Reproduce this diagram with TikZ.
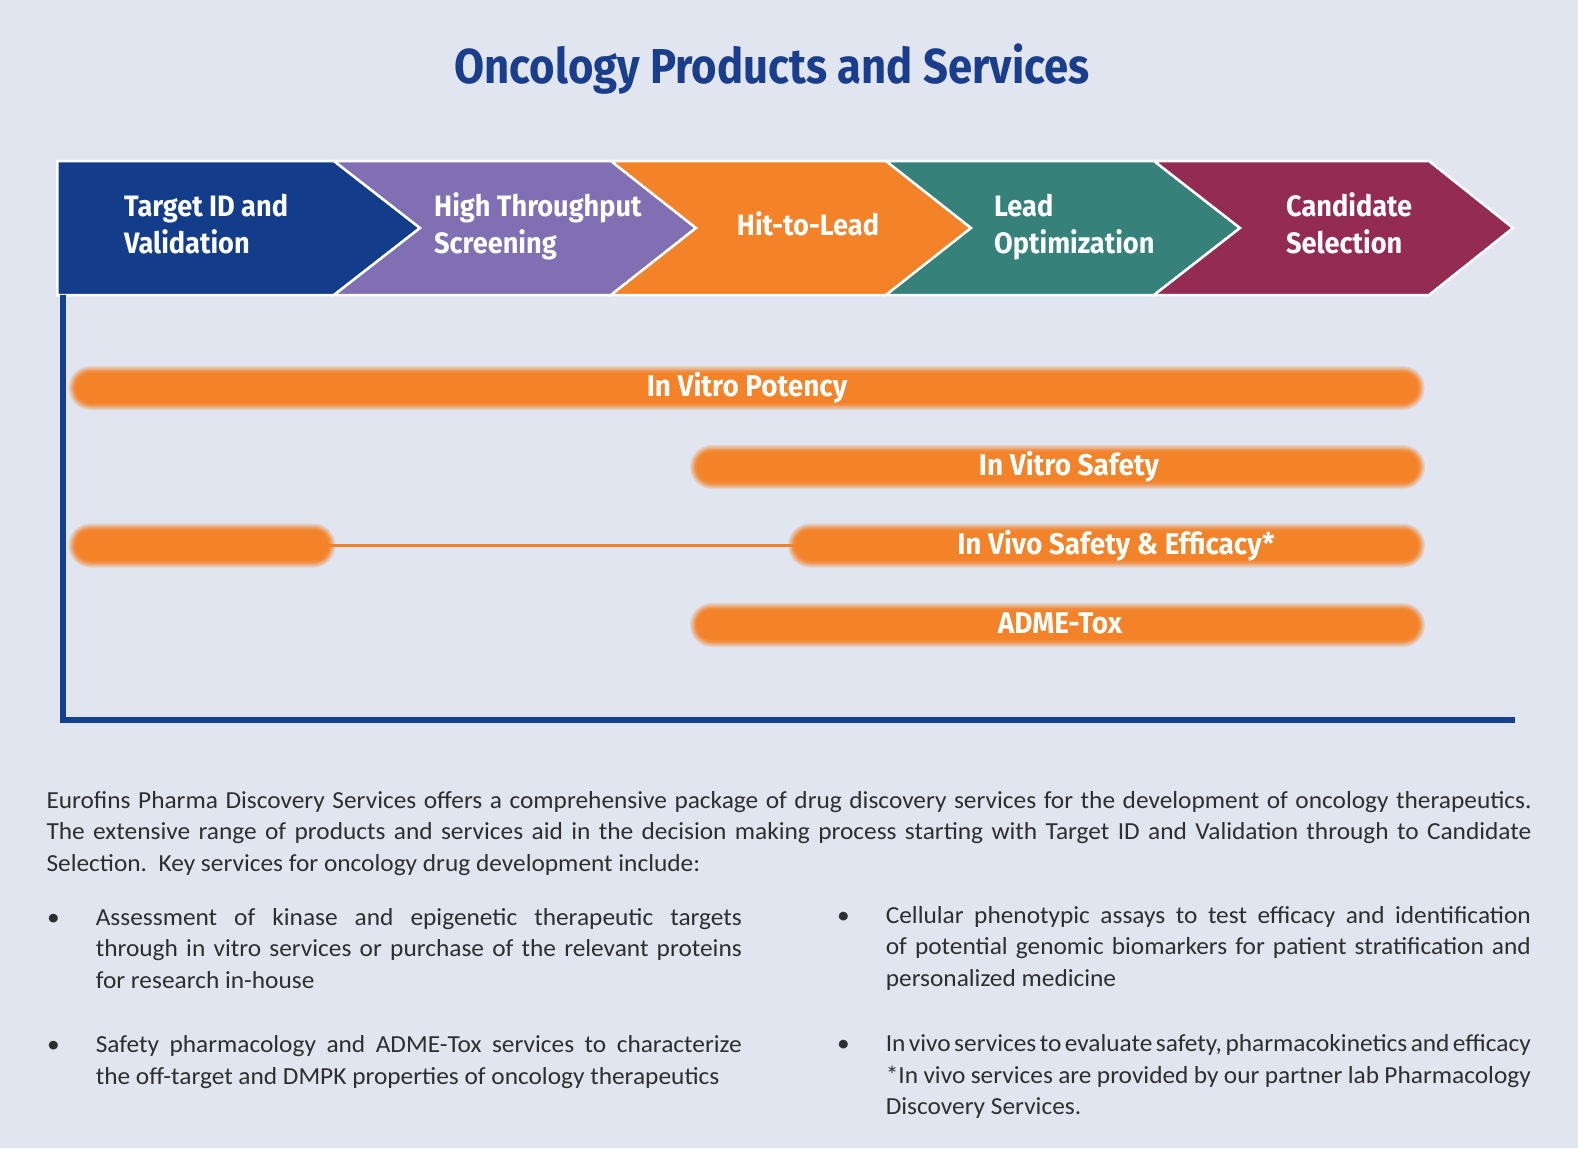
\documentclass[tikz,border=0pt]{standalone}
\usepackage{fontspec}
\setmainfont[FakeStretch=1.035]{Carlito}
\newfontfamily\headfont[FakeStretch=0.92]{Fira Sans}
\newfontfamily\pillfont[FakeStretch=0.93]{Fira Sans}
\newfontfamily\titlefont[FakeStretch=0.89]{Fira Sans}
\definecolor{bg}{HTML}{E0E5F0}
\definecolor{titleblue}{HTML}{1A3E8C}
\definecolor{cblue}{HTML}{133D8A}
\definecolor{cpurple}{HTML}{8070B3}
\definecolor{corange}{HTML}{F38228}
\definecolor{cteal}{HTML}{36827B}
\definecolor{cmaroon}{HTML}{932B52}
\definecolor{axisblue}{HTML}{15408E}
\definecolor{bodytext}{HTML}{2E2E2E}
\tikzset{
  chev/.style={draw=white, line width=2.5pt, line join=miter},
  chevtext/.style={font=\headfont\bfseries\fontsize{29.5}{36}\selectfont, text=white, inner sep=0},
  pill/.style={minimum height=30pt, rounded corners=15pt, inner sep=0, fill=corange,
    preaction={draw=corange!20!bg, line width=14pt},
    preaction={draw=corange!38!bg, line width=11.5pt},
    preaction={draw=corange!56!bg, line width=9pt},
    preaction={draw=corange!74!bg, line width=6.5pt},
    preaction={draw=corange!90!bg, line width=4pt}},
  pilltext/.style={font=\pillfont\bfseries\fontsize{30}{36}\selectfont, text=white, inner sep=0, anchor=base},
  body/.style={font=\fontsize{24.5}{31.7}\selectfont, text=bodytext, inner sep=0, anchor=base west},
}
\begin{document}
\begin{tikzpicture}[x=1pt,y=-1pt]
\fill[bg] (0,0) rectangle (1578,1148);
\useasboundingbox (0,0) rectangle (1578,1148);
% title
\node[font=\titlefont\bfseries\fontsize{49}{56}\selectfont, text=titleblue, anchor=base, inner sep=0] (title) at (772,83.5) {Oncology Products and Services};
% chevrons
\filldraw[fill=cblue, chev] (57.4,161) -- (334,161) -- (420,228) -- (334,295) -- (57.4,295) -- cycle;
\filldraw[fill=cpurple, chev] (334,161) -- (611,161) -- (696,228) -- (611,295) -- (334,295) -- (420,228) -- cycle;
\filldraw[fill=corange, chev] (611,161) -- (886,161) -- (971,228) -- (886,295) -- (611,295) -- (696,228) -- cycle;
\filldraw[fill=cteal, chev] (886,161) -- (1154,161) -- (1240,228) -- (1154,295) -- (886,295) -- (971,228) -- cycle;
\filldraw[fill=cmaroon, chev] (1154,161) -- (1429,161) -- (1513,228) -- (1429,295) -- (1154,295) -- (1240,228) -- cycle;
\node[chevtext, anchor=base west] (t1a) at (124,216.5) {Target ID and};
\node[chevtext, anchor=base west] (t1b) at (124,253) {Validation};
\node[chevtext, anchor=base west] (t2a) at (434,216.5) {High Throughput};
\node[chevtext, anchor=base west] (t2b) at (434,253) {Screening};
\node[chevtext, anchor=base] (t3) at (808,235) {Hit-to-Lead};
\node[chevtext, anchor=base west] (t4a) at (994,216.5) {Lead};
\node[chevtext, anchor=base west] (t4b) at (994,253) {Optimization};
\node[chevtext, anchor=base west] (t5a) at (1286,216.5) {Candidate};
\node[chevtext, anchor=base west] (t5b) at (1286,253) {Selection};
% axis
\draw[axisblue, line width=6pt, line join=miter] (62.5,295) -- (62.5,720) -- (1514.5,720);
% bars
\node[pill, minimum width=1342pt] (b1) at (746.7,388) {};
\node[pill, minimum width=721pt] (b2) at (1057.5,467) {};
\node[pill, minimum width=253pt] (b3) at (202,545.5) {};
\node[pill, minimum width=623pt] (b4) at (1106.5,545.5) {};
\node[pill, minimum width=721pt] (b5) at (1057.5,625) {};
\draw[corange, line width=2.5pt] (b3.east) -- (b4.west);
\node[pilltext] (l1) at (747,396.5) {In Vitro Potency};
\node[pilltext] (l2) at (1069,475.5) {In Vitro Safety};
\node[pilltext] (l4) at (1116,554) {In Vivo Safety \& Efficacy*};
\node[pilltext] (l5) at (1060,633.5) {ADME-Tox};
% paragraph
\node[body] (para) at (46.3,808) {\parbox[t]{1485pt}{\fontsize{24.5}{31.7}\selectfont
\makebox[1485pt][s]{Eurofins Pharma Discovery Services offers a comprehensive package of drug discovery services for the development of oncology therapeutics.}\\
\makebox[1485pt][s]{The extensive range of products and services aid in the decision making process starting with Target ID and Validation through to Candidate}\\
Selection.\ \ Key services for oncology drug development include:}};
% bullets left
\node[body] (bu1) at (47,925) {\textbullet};
\node[body] (p1) at (95.6,925) {\parbox[t]{646pt}{\fontsize{24.5}{31.7}\selectfont
\makebox[646pt][s]{Assessment of kinase and epigenetic therapeutic targets}\\
\makebox[646pt][s]{through in vitro services or purchase of the relevant proteins}\\
for research in-house}};
\node[body] (bu2) at (47,1052.5) {\textbullet};
\node[body] (p2) at (95.6,1052.5) {\parbox[t]{646pt}{\fontsize{24.5}{31.7}\selectfont
\makebox[646pt][s]{Safety pharmacology and ADME-Tox services to characterize}\\
the off-target and DMPK properties of oncology therapeutics}};
% bullets right
\node[body] (bu3) at (837,923) {\textbullet};
\node[body] (p3) at (885.6,923) {\parbox[t]{645pt}{\fontsize{24.5}{31.7}\selectfont
\makebox[645pt][s]{Cellular phenotypic assays to test efficacy and identification}\\
\makebox[645pt][s]{of potential genomic biomarkers for patient stratification and}\\
personalized medicine}};
\node[body] (bu4) at (837,1051.5) {\textbullet};
\node[body] (p4) at (885.6,1051.5) {\parbox[t]{645pt}{\fontsize{24.5}{31.7}\selectfont
{\spaceskip=0.17em plus 0.05em minus 0.03em\makebox[642pt][s]{In vivo services to evaluate safety, pharmacokinetics and efficacy}}\\
{*}In vivo services are provided by our partner lab Pharmacology\\
Discovery Services.}};
\end{tikzpicture}
\end{document}
